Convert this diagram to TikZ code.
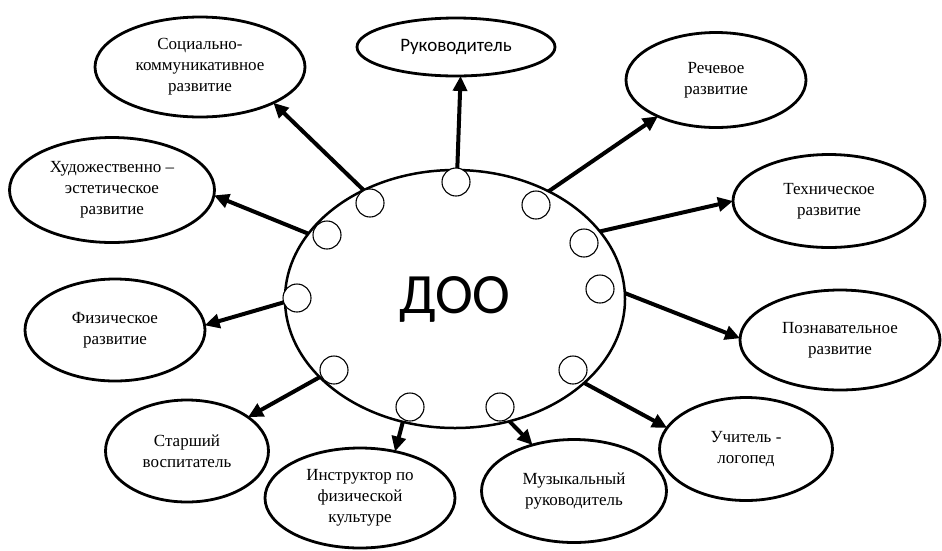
\documentclass[tikz,border=0pt]{standalone}
\usepackage{fontspec}
\setmainfont{Liberation Serif}
\newfontfamily\calfont{Carlito}
\usetikzlibrary{shapes.geometric,arrows.meta}
\begin{document}
\begin{tikzpicture}[x=1pt,y=-1pt,
  bub/.style={draw,ellipse,line width=2.8pt,inner sep=0pt,outer sep=0pt,align=center,font=\fontsize{17}{21}\selectfont},
  dot/.style={draw,circle,fill=white,line width=1.1pt,minimum size=28pt,inner sep=0pt},
  arr/.style={line width=4pt,-{Triangle[length=15pt,width=14pt]}}]
\path[use as bounding box] (0,0) rectangle (942,550);
% outer ellipses
\node[bub,minimum width=210pt,minimum height=100pt] (soc) at (200,67) {Социально-\\коммуникативное\\развитие};
\node[bub,font=\calfont\fontsize{19}{21}\selectfont,minimum width=198pt,minimum height=58pt] (ruk) at (456,47) {Руководитель};
\node[bub,minimum width=180pt,minimum height=95pt] (rech) at (716,80) {Речевое\\развитие};
\node[bub,minimum width=205pt,minimum height=105pt] (hud) at (112,190) {Художественно –\\эстетическое\\развитие};
\node[bub,minimum width=192pt,minimum height=93pt] (tech) at (829,201) {Техническое\\развитие};
\node[bub,minimum width=180pt,minimum height=102pt] (fiz) at (115,330) {Физическое\\развитие};
\node[bub,minimum width=200pt,minimum height=100pt] (pozn) at (840,340) {Познавательное\\развитие};
\node[bub,minimum width=163pt,minimum height=102pt] (star) at (187,451) {Старший\\воспитатель};
\node[bub,minimum width=190pt,minimum height=100pt] (instr) at (360,498) {Инструктор по\\физической\\культуре};
\node[bub,minimum width=185pt,minimum height=103pt] (muz) at (574,491) {Музыкальный\\руководитель};
\node[bub,minimum width=173pt,minimum height=103pt] (uch) at (746,449) {Учитель -\\логопед};
% central ellipse
\node[draw,ellipse,line width=2.5pt,inner sep=0pt,outer sep=0pt,minimum width=340pt,minimum height=258pt,font=\calfont\fontsize{57}{60}\selectfont] (doo) at (455,299) {ДОО};
% arrows
\draw[arr] (doo.89) -- (ruk.-81);
\draw[arr] (doo.130) -- (soc.-26);
\draw[arr] (doo.49) -- (rech.-148);
\draw[arr] (doo.156) -- (hud.-3);
\draw[arr] (doo.25) -- (tech.180);
\draw[arr] (doo.-179) -- (fiz.3);
\draw[arr] (doo.2) -- (pozn.179);
\draw[arr] (doo.-150) -- (star.29);
\draw[arr] (doo.-113) -- (instr.53);
\draw[arr] (doo.-66) -- (muz.132);
\draw[arr] (doo.-33) -- (uch.165);
% small circles
\node[dot] (c1) at (456,182) {};
\node[dot] (c2) at (370,203) {};
\node[dot] (c3) at (536,205) {};
\node[dot] (c4) at (327,235) {};
\node[dot] (c5) at (584,243) {};
\node[dot] (c6) at (297,298) {};
\node[dot] (c7) at (600,289) {};
\node[dot] (c8) at (334,370) {};
\node[dot] (c9) at (573,370) {};
\node[dot] (c10) at (410,407) {};
\node[dot] (c11) at (500,407) {};
\end{tikzpicture}
\end{document}
